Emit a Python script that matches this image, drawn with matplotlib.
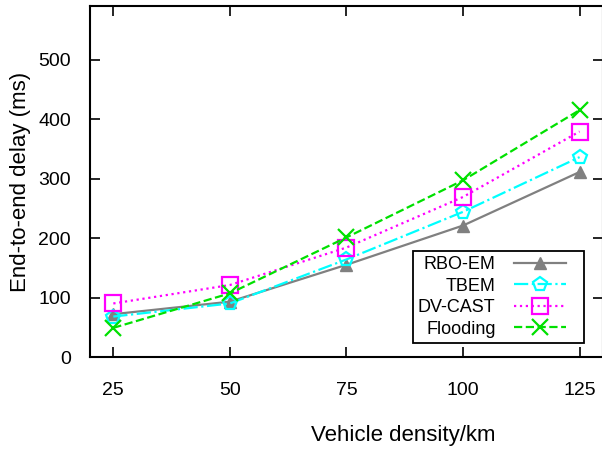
import matplotlib
matplotlib.use("Agg")
import matplotlib.pyplot as plt
from matplotlib.offsetbox import DrawingArea

plt.rcParams["font.family"] = ["Liberation Sans", "DejaVu Sans"]

# vehicle densities and measured delays (ms)
density = [25, 50, 75, 100, 125]
rbo_em = [72, 93, 155, 221, 311]
tbem = [68, 90, 164, 244, 336]
dv_cast = [90, 121, 184, 269, 379]
flooding = [49, 107, 201, 297, 415]

fig = plt.figure(figsize=(6.02, 4.51), dpi=100)
ax = fig.add_axes([0.1495, 0.2084, 0.852, 0.7783])

ax.plot(density, rbo_em, "-", color="#808080", lw=1.6, marker="^",
        ms=8, mfc="#808080", mec="#808080", label="RBO-EM")
ax.plot(density, tbem, "-.", color="#00ffff", lw=1.6, marker="p",
        ms=10, mfc="none", mec="#00ffff", mew=1.6, label="TBEM")
ax.plot(density, dv_cast, ":", color="#ff00ff", lw=1.6, marker="s",
        ms=11, mfc="none", mec="#ff00ff", mew=1.6, label="DV-CAST")
ax.plot(density, flooding, "--", color="#00e000", lw=1.6, marker="x",
        ms=11, mec="#00e000", mew=1.6, label="Flooding")

ax.set_xlim(20, 130)
ax.set_ylim(0, 590)
ax.set_xticks(density)
ax.set_yticks([0, 100, 200, 300, 400, 500])
ax.tick_params(direction="in", length=7, width=1.2, top=True, right=True,
               labelsize=14)
ax.tick_params(axis="x", pad=18)
ax.tick_params(axis="y", pad=13.7)
for s in ax.spines.values():
    s.set_linewidth(1.5)

ax.set_xlabel("Vehicle density/km", fontsize=16)
ax.set_ylabel("End-to-end delay (ms)", fontsize=16)
ax.xaxis.set_label_coords(0.61, -0.194)
ax.yaxis.set_label_coords(-0.115, 0.5)

leg = ax.legend(loc="lower right", bbox_to_anchor=(0.963, 0.040),
                borderaxespad=0, markerfirst=False, fancybox=False,
                framealpha=1, edgecolor="black", fontsize=13,
                handlelength=2.9, borderpad=0.3, labelspacing=0.25,
                handletextpad=1.0, columnspacing=0)
leg.get_frame().set_linewidth(1.3)
for t in leg.get_texts():
    t.set_ha("right")
leg._legend_box.align = "right"
# extra room between the handles and the right edge of the frame
leg._legend_handle_box.get_children().append(DrawingArea(9, 1))

fig.savefig("out.png", dpi=100)
